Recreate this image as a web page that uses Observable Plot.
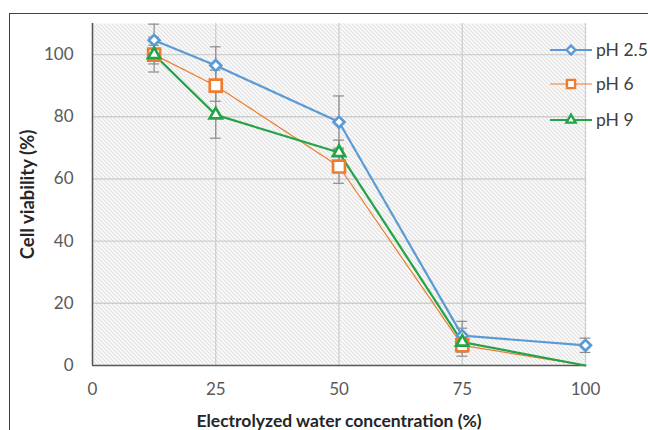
<!DOCTYPE html>
<html>
<head>
<meta charset="utf-8">
<script src="https://cdn.jsdelivr.net/npm/d3@7"></script>
<script src="https://cdn.jsdelivr.net/npm/@observablehq/plot@0.6"></script>
<style>
  html, body { margin: 0; padding: 0; background: #fff; }
  #wrap { position: relative; width: 648px; height: 430px; overflow: hidden; font-family: Lato, "Open Sans", sans-serif; }
  #frame { position: absolute; left: 9px; top: 13px; width: 660px; height: 430px; border-left: 1.5px solid #404040; border-top: 1.5px solid #404040; box-sizing: border-box; }
  #chart { position: absolute; left: 0; top: 0; }
  #legend { position: absolute; left: 0; top: 0; }
</style>
</head>
<body>
<div id="wrap">
  <div id="frame"></div>
  <div id="chart"></div>
  <svg id="legend" width="648" height="430"></svg>
</div>
<script>
// ---- data ----
const concentrations = [12.5, 25, 50, 75, 100];
const seriesNames = ["pH 2.5", "pH 6", "pH 9"];
const ph25 = [104.6, 96.5, 78.3, 9.6, 6.5];
const ph25Err = [5.2, 6.0, 8.4, 4.6, 2.3];
const ph6 = [100, 90, 64, 6.5, 0];
const ph6Err = [3.0, 5.0, 5.4, 2.2, 0];
const ph9 = [100, 80.6, 68.5, 7.5, 0];
const ph9Err = [5.6, 7.5, 4.0, 4.5, 0];
const xTicks = [0, 25, 50, 75, 100];
const yTicks = [0, 20, 40, 60, 80, 100];
const colors = ["#5B9BD5", "#ED7D31", "#22A447"];
const symbols = ["diamond2", "square2", "triangle2"];

const seriesValues = [ph25, ph6, ph9];
const seriesErrors = [ph25Err, ph6Err, ph9Err];
const rows = [];
seriesNames.forEach((s, i) => {
  concentrations.forEach((c, j) => {
    rows.push({series: s, x: c, y: seriesValues[i][j], e: seriesErrors[i][j]});
  });
});
const bySeries = s => rows.filter(d => d.series === s);
const errRows = rows.filter(d => d.e > 0);
const capRows = errRows.flatMap(d => [{x: d.x, y: d.y + d.e}, {x: d.x, y: d.y - d.e}]);

const lineWidths = [2.2, 1.2, 2.2];
const dotR = [4.9, 7.6, 5.8];

const plot = Plot.plot({
  width: 648,
  height: 430,
  marginLeft: 92,
  marginRight: 63,
  marginTop: 23,
  marginBottom: 65,
  x: {domain: [0, 100]},
  y: {domain: [0, 110]},
  color: {domain: seriesNames, range: colors},
  symbol: {domain: seriesNames, range: symbols},
  style: {fontFamily: "Lato, 'Open Sans', sans-serif", fontSize: "17px", color: "#595959", background: "transparent", overflow: "visible"},
  marks: [
    Plot.frame({fill: "white", stroke: null}),
    Plot.gridY(yTicks.filter(v => v > 0), {stroke: "#cfcfcf", strokeOpacity: 1, strokeWidth: 1.4}),
    Plot.gridX(xTicks.filter(v => v > 0), {stroke: "#cfcfcf", strokeOpacity: 1, strokeWidth: 1.4}),
    Plot.axisY(yTicks, {tickSize: 0, tickPadding: 19, fontSize: 17, label: "Cell viability (%)", labelAnchor: "center", labelOffset: 72, labelArrow: false, fill: "#595959"}),
    Plot.axisX(xTicks, {tickSize: 0, tickPadding: 17, fontSize: 17, label: "Electrolyzed water concentration (%)", labelAnchor: "center", labelOffset: 61, labelArrow: false, fill: "#595959"}),
    Plot.ruleX([0], {stroke: "#595959", strokeWidth: 1.6}),
    Plot.ruleY([0], {stroke: "#595959", strokeWidth: 1.6}),
    Plot.ruleX(errRows, {x: "x", y1: d => d.y - d.e, y2: d => d.y + d.e, stroke: "#8c8c8c", strokeWidth: 1.2}),
    Plot.ruleY(capRows, {y: "y", x1: d => d.x - 1.1, x2: d => d.x + 1.1, stroke: "#8c8c8c", strokeWidth: 1.2}),
    ...seriesNames.map((s, i) => Plot.line(bySeries(s), {x: "x", y: "y", stroke: "series", strokeWidth: lineWidths[i]})),
    ...seriesNames.map((s, i) => Plot.dot(bySeries(s).filter(d => d.y > 0), {x: "x", y: "y", symbol: "series", stroke: "series", fill: "white", r: dotR[i], strokeWidth: 2.7}))
  ]
});
document.getElementById("chart").appendChild(plot);

// hatch pattern background for the plot area
const svg = d3.select(plot);
const defs = svg.insert("defs", ":first-child");
const pat = defs.append("pattern").attr("id", "hatch").attr("patternUnits", "userSpaceOnUse").attr("width", 4).attr("height", 4);
pat.append("rect").attr("width", 4).attr("height", 4).attr("fill", "white");
pat.append("path").attr("d", "M0,0L4,4M-1,3L1,5M3,-1L5,1").attr("stroke", "#bdbdbd").attr("stroke-width", 0.85);
svg.selectAll('[aria-label="frame"]').each(function() {
  const sel = d3.select(this);
  sel.selectAll("rect").attr("fill", "url(#hatch)");
  sel.attr("fill", "url(#hatch)");
});
svg.selectAll('g[aria-label="y-axis label"], g[aria-label="y-axis label"] text')
  .style("font-weight", "bold").style("font-size", "18.5px").attr("fill", "#262626");
svg.selectAll('g[aria-label="x-axis label"], g[aria-label="x-axis label"] text')
  .style("font-weight", "bold").style("font-size", "17.5px").attr("fill", "#262626");

// legend
const lg = d3.select("#legend");
const legendY = [50, 84, 120];
seriesNames.forEach((s, i) => {
  const g = lg.append("g");
  g.append("line").attr("x1", 550).attr("x2", 592).attr("y1", legendY[i]).attr("y2", legendY[i])
    .attr("stroke", colors[i]).attr("stroke-width", lineWidths[i]);
  const sym = {diamond2: d3.symbolDiamond2, square2: d3.symbolSquare2, triangle2: d3.symbolTriangle2}[symbols[i]];
  const r = [4.0, 5.2, 4.4][i];
  g.append("path").attr("d", d3.symbol(sym, Math.PI * r * r)())
    .attr("transform", `translate(571,${legendY[i]})`)
    .attr("fill", "white").attr("stroke", colors[i]).attr("stroke-width", 2.4);
  g.append("text").attr("x", 596).attr("y", legendY[i]).attr("dy", "0.36em")
    .attr("font-family", "Lato, 'Open Sans', sans-serif").attr("font-size", "17.5px").attr("fill", "#404040")
    .text(s);
});
</script>
</body>
</html>
